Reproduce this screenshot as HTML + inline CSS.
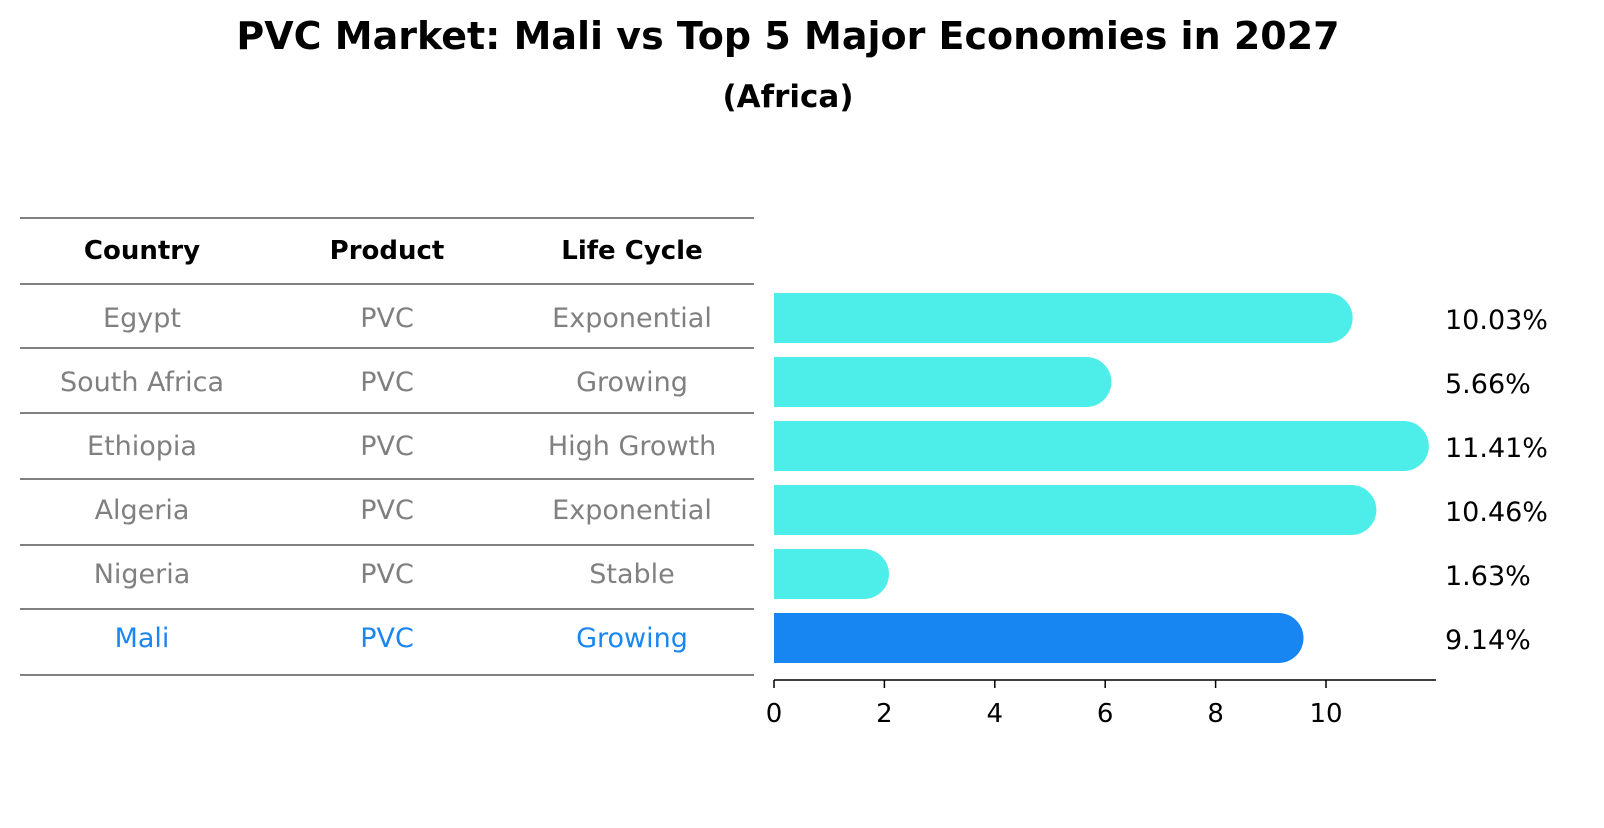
<!DOCTYPE html>
<html><head><meta charset="utf-8"><style>
body{margin:0;background:#fff;font-family:"Liberation Sans","DejaVu Sans",sans-serif;}
svg text{font-family:"DejaVu Sans","Liberation Sans",sans-serif;}
</style></head><body>
<svg id="chart" width="1604" height="823" viewBox="0 0 1604 823" xmlns="http://www.w3.org/2000/svg">
<text x="788" y="49" text-anchor="middle" font-size="38" font-weight="bold">PVC Market: Mali vs Top 5 Major Economies in 2027</text>
<text x="788" y="107" text-anchor="middle" font-size="31" font-weight="bold">(Africa)</text>
<g id="table"></g>
<g id="bars"></g>
</svg>
<script>
const countries=["Egypt","South Africa","Ethiopia","Algeria","Nigeria","Mali"];
const products=["PVC","PVC","PVC","PVC","PVC","PVC"];
const lifeCycles=["Exponential","Growing","High Growth","Exponential","Stable","Growing"];
const values=[10.03,5.66,11.41,10.46,1.63,9.14];
const valueLabels=["10.03%","5.66%","11.41%","10.46%","1.63%","9.14%"];
const ticks=[0,2,4,6,8,10];
const highlight="Mali";

const NS="http://www.w3.org/2000/svg";
function mk(tag,attrs,parent,txt){const e=document.createElementNS(NS,tag);for(const k in attrs)e.setAttribute(k,attrs[k]);if(txt!==undefined)e.textContent=txt;parent.appendChild(e);return e;}
const x0=774,pxPerUnit=55.2;
const xs=v=>x0+v*pxPerUnit;
const rowY=i=>318+i*64;
const tbl=document.getElementById('table');
const lineYs=[218,284,348,413,479,545,609,675];
lineYs.forEach((y,i)=>{const l=mk('line',{x1:20,x2:754,y1:y,y2:y,stroke:'#000','stroke-width':1},tbl);

});
const colX=[142,387,632];
["Country","Product","Life Cycle"].forEach((h,j)=>{const t=mk('text',{x:colX[j],y:259,'text-anchor':'middle','font-size':26,'font-weight':'bold'},tbl,h);

});
const bars=document.getElementById('bars');
countries.forEach((c,i)=>{
  const col=c===highlight?'#1a86f0':'#808080';
  const y=rowY(i);
  [c,products[i],lifeCycles[i]].forEach((v,j)=>{const t=mk('text',{x:colX[j],y:y+9,'text-anchor':'middle','font-size':27,fill:col},tbl,v);
  
  });
  const fill=c===highlight?'#1785f2':'#4deeea';
  const xe=xs(values[i]);
  const p=mk('path',{d:`M${x0},${y-25} L${xe},${y-25} A25,25 0 0 1 ${xe},${y+25} L${x0},${y+25} Z`,fill:fill},bars);
  
  
  const lb=mk('text',{x:1445,y:y+11,'font-size':27},bars,valueLabels[i]);
  
  
});
const ax=mk('line',{x1:x0,x2:1436,y1:680,y2:680,stroke:'#000','stroke-width':1.5},bars);


ticks.forEach(t=>{const tl=mk('line',{x1:xs(t),x2:xs(t),y1:680,y2:688,stroke:'#000','stroke-width':1.5},bars);


const tt=mk('text',{x:xs(t),y:722,'text-anchor':'middle','font-size':26},bars,String(t));

});
</script>
</body></html>
